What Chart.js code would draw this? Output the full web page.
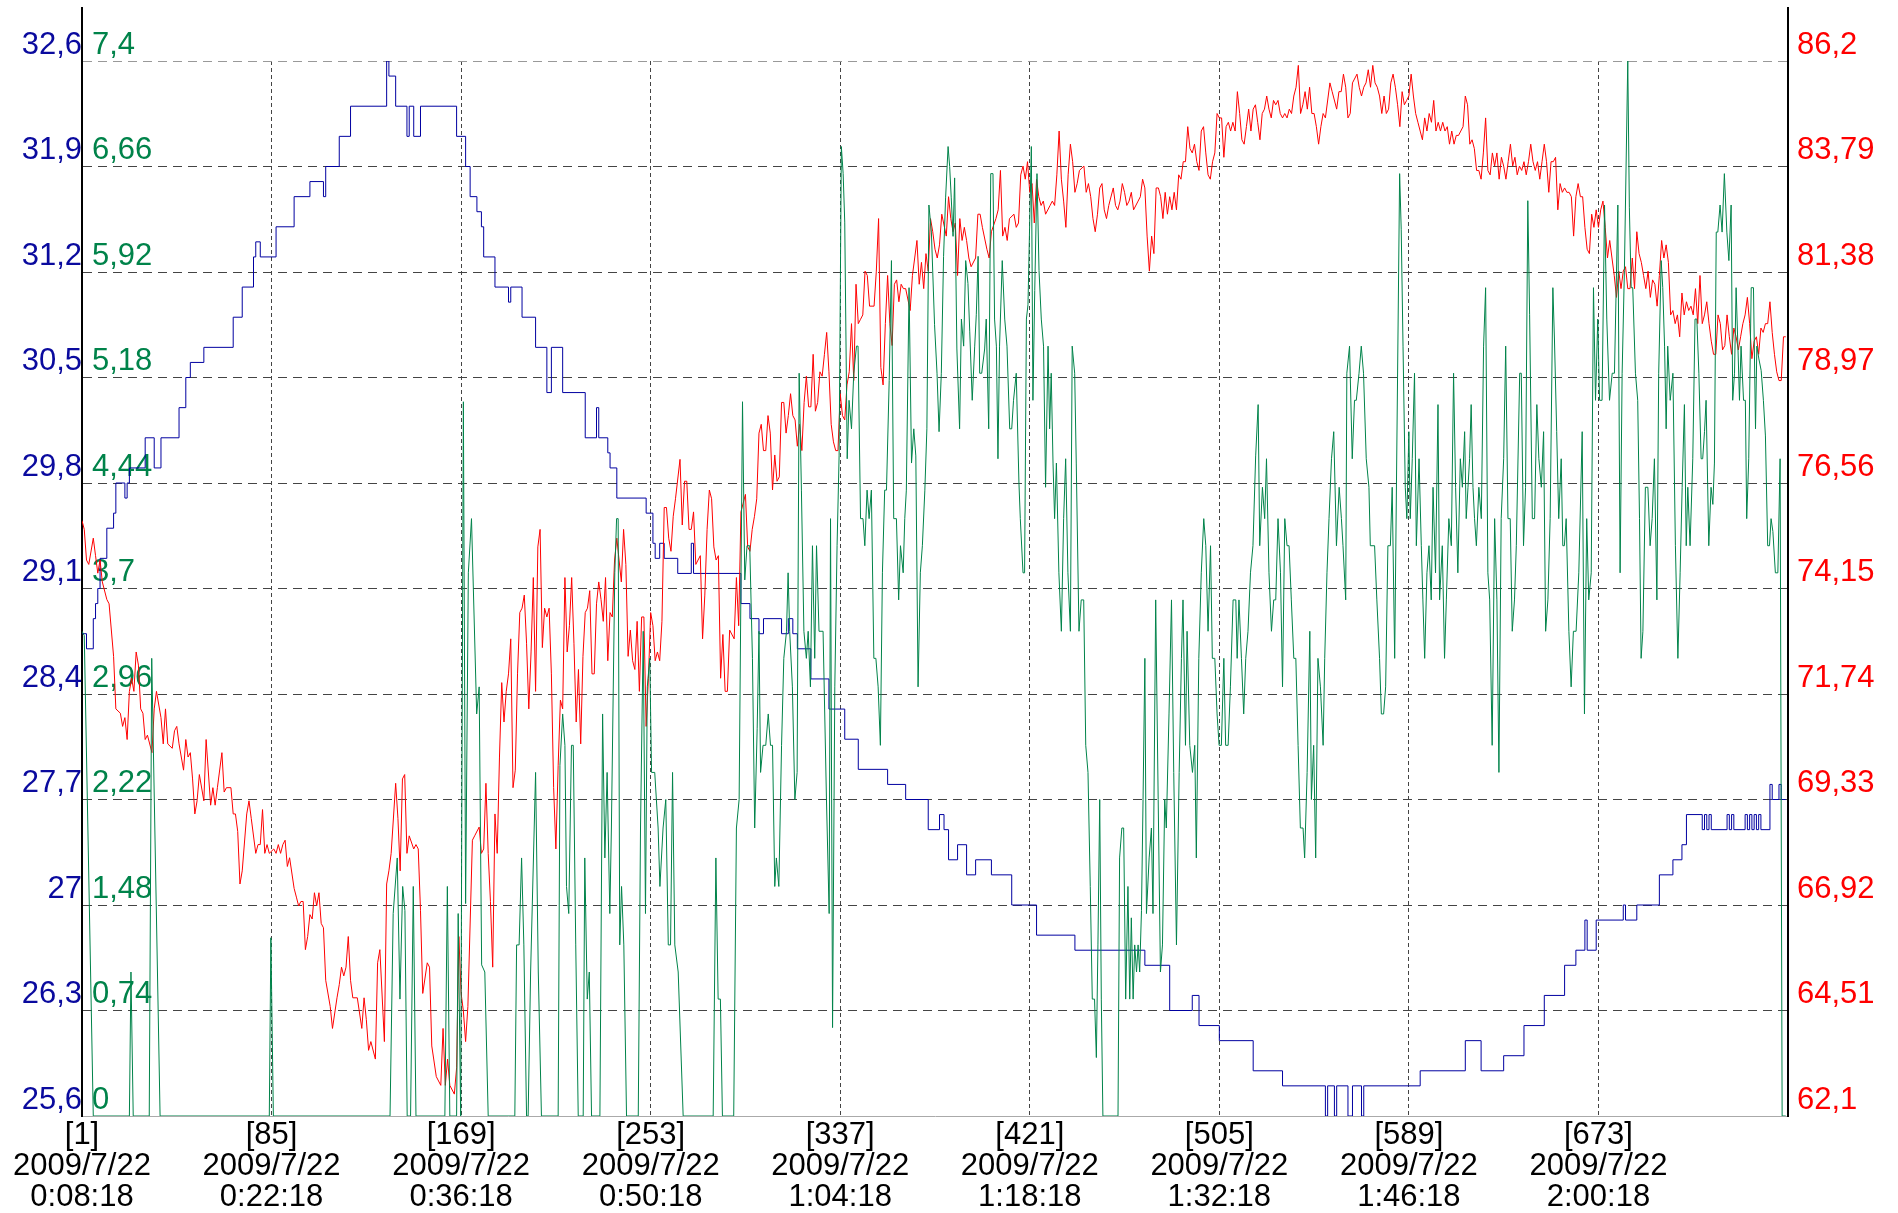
<!DOCTYPE html>
<html>
<head>
<meta charset="utf-8">
<script src="https://cdn.jsdelivr.net/npm/chart.js@4"></script>
<style>
  body { margin: 0; background: #fff; }
  canvas { display: block; }
</style>
</head>
<body>
<canvas id="grafica" width="1898" height="1213"></canvas>
<script>
// Ejes: valores de las marcas y sus textos
const azulMarcas = [25.6, 26.3, 27, 27.7, 28.4, 29.1, 29.8, 30.5, 31.2, 31.9, 32.6];
const azulTextos = ["25,6", "26,3", "27", "27,7", "28,4", "29,1", "29,8", "30,5", "31,2", "31,9", "32,6"];
const verdeMarcas = [0, 0.74, 1.48, 2.22, 2.96, 3.7, 4.44, 5.18, 5.92, 6.66, 7.4];
const verdeTextos = ["0", "0,74", "1,48", "2,22", "2,96", "3,7", "4,44", "5,18", "5,92", "6,66", "7,4"];
const rojoMarcas = [62.1, 64.51, 66.92, 69.33, 71.74, 74.15, 76.56, 78.97, 81.38, 83.79, 86.2];
const rojoTextos = ["62,1", "64,51", "66,92", "69,33", "71,74", "74,15", "76,56", "78,97", "81,38", "83,79", "86,2"];

const xMarcas = [1, 85, 169, 253, 337, 421, 505, 589, 673];
const xFechas = ["2009/7/22", "2009/7/22", "2009/7/22", "2009/7/22", "2009/7/22", "2009/7/22", "2009/7/22", "2009/7/22", "2009/7/22"];
const xHoras = ["0:08:18", "0:22:18", "0:36:18", "0:50:18", "1:04:18", "1:18:18", "1:32:18", "1:46:18", "2:00:18"];

// Serie azul (escalonada): muestra donde cambia el valor
const azulX = [
  1,3,6,7,8,9,12,15,16,20,21,22,29,33,36,44,47,49,55,68,72,77,78,80,87,95,
  102,108,109,115,120,136,137,140,145,146,148,151,167,171,173,176,178,179,184,190,191,196,202,207,209,214,224,229,230,234,235,238,251,254,255,257,259,265,271,272,
  293,297,301,303,311,314,316,318,324,332,339,345,358,366,376,
  381,383,385,389,393,397,404,413,424,441,
  472,483,493,496,505,520,533,552,553,556,557,562,564,568,569,594,614,621,631,640,649,
  658,663,667,668,672,684,685,690,700,706,710,712,719,720,721,722,723,730,731,732,733,738,739,740,741,742,743,744,745,749,750,753,754,756
];
const azulY = [
  28.8,28.7,28.9,29.0,29.1,29.3,29.5,29.6,29.8,29.7,29.8,29.9,30.1,29.9,30.1,30.3,30.5,30.6,30.7,30.9,31.1,31.3,31.4,31.3,31.5,31.7,
  31.8,31.7,31.9,32.1,32.3,32.6,32.5,32.3,32.1,32.3,32.1,32.3,32.1,31.9,31.7,31.6,31.5,31.3,31.1,31.0,31.1,30.9,30.7,30.4,30.7,30.4,30.1,30.3,30.1,30.0,29.9,29.7,29.6,29.4,29.3,29.4,29.3,29.2,29.4,29.2,
  29.0,28.9,28.8,28.9,28.8,28.9,28.8,28.7,28.5,28.3,28.1,27.9,27.8,27.7,27.5,
  27.6,27.5,27.3,27.4,27.2,27.3,27.2,27.0,26.8,26.7,
  26.6,26.3,26.4,26.2,26.1,25.9,25.8,25.6,25.8,25.6,25.8,25.6,25.8,25.6,25.8,25.9,26.1,25.9,26.0,26.2,26.4,
  26.6,26.7,26.9,26.7,26.9,27.0,26.9,27.0,27.2,27.3,27.4,27.6,27.5,27.6,27.5,27.6,27.5,27.6,27.5,27.6,27.5,27.6,27.5,27.6,27.5,27.6,27.5,27.6,27.5,27.8,27.7,27.8,27.7,27.7
];

// Serie roja
const rojoX = [
  1,2,3,4,6,7,8,9,10,12,13,15,16,18,19,20,21,22,23,24,25,26,27,28,29,30,32,33,34,36,37,38,39,41,42,43,44,46,47,48,49,50,51,52,53,55,56,58,59,60,61,63,64,65,67,68,69,70,71,72,74,75,76,78,79,80,81,82,83,84,86,87,88,89,90,91,92,93,95,96,97,
  98,99,100,101,102,103,104,105,106,107,108,109,111,112,114,115,116,117,118,119,120,121,123,125,126,127,128,129,131,132,133,135,136,137,138,140,141,142,143,144,145,146,148,149,150,151,152,154,155,156,158,160,161,162,163,164,166,167,168,169,170,171,172,174,175,177,178,179,180,181,182,183,184,185,186,187,188,189,190,
  191,192,193,194,195,196,197,198,199,200,201,202,203,204,205,206,207,208,209,210,
  211,212,213,214,215,216,217,218,219,220,221,222,223,224,225,226,227,228,229,230,
  231,232,233,234,235,236,237,238,239,240,241,242,243,244,245,246,247,248,249,250,
  251,252,253,254,255,256,257,258,259,260,261,262,263,264,266,267,268,269,270,271,
  272,273,274,275,276,277,278,279,280,281,
  282,283,284,285,286,287,288,290,291,292,293,294,295,296,297,298,299,300,301,302,
  303,304,305,306,307,308,309,310,311,312,313,314,315,316,317,318,319,320,321,322,
  323,324,325,326,327,328,329,330,331,332,333,334,335,336,337,338,339,340,341,342,
  343,344,345,346,347,348,349,350,352,353,354,355,356,357,358,359,360,361,362,363,
  364,365,366,368,369,370,371,372,373,374,375,376,
  377,378,379,380,381,382,384,385,386,387,388,389,390,391,392,393,394,395,397,398,
  399,400,402,403,404,406,407,408,409,410,411,412,414,415,416,417,418,419,420,421,
  422,423,424,425,426,427,428,430,431,432,433,434,435,436,437,438,439,440,441,442,
  443,445,446,447,448,449,450,451,452,453,454,455,456,458,459,460,461,462,463,464,
  465,466,467,469,470,
  471,472,473,474,475,476,477,478,479,480,481,482,483,484,485,486,487,488,489,490,
  491,492,493,494,495,496,497,498,499,500,501,502,503,504,505,506,507,508,509,510,
  511,512,513,514,515,516,517,518,519,520,521,522,523,524,525,526,527,528,529,530,
  531,532,533,534,535,536,537,538,539,540,541,542,543,544,545,546,547,548,549,550,
  551,552,554,555,557,558,559,560,561,562,563,
  564,566,567,568,569,570,571,572,573,574,575,576,577,578,579,580,581,582,583,584,
  585,586,587,588,589,590,591,592,593,594,595,596,597,598,599,600,601,602,603,604,
  605,606,607,608,609,610,611,612,613,614,615,616,617,618,619,620,621,622,623,624,
  625,626,627,628,629,630,631,632,633,634,635,636,637,638,639,640,641,642,643,644,
  645,646,647,648,649,650,651,652,653,654,655,
  656,657,658,659,660,661,662,663,664,665,666,667,668,669,670,671,672,673,674,675,
  676,677,678,679,680,681,682,683,684,685,686,687,688,689,690,691,692,693,694,695,
  696,697,698,699,700,701,702,703,704,705,706,707,708,709,710,711,712,713,714,715,
  716,717,718,719,720,721,722,723,724,725,726,727,728,729,730,731,732,733,734,735,
  736,737,738,739,740,741,742,743,744,745,746,747,748,749,750,751,752,753,754,755,
  756
];
const rojoY = [
  75.7,75.5,74.8,74.7,75.3,74.9,74.5,74.8,74.3,73.9,73.8,72.6,71.4,71.3,71.0,71.2,70.7,71.8,72.1,71.8,72.7,72.4,71.4,71.3,70.7,70.8,70.4,71.4,71.8,71.2,70.6,71.4,70.6,70.5,70.9,71.0,70.6,70.0,70.7,70.3,70.4,69.8,69.0,69.3,69.9,69.3,70.7,69.2,69.6,69.2,69.6,70.4,69.5,69.6,69.6,69.0,69.0,68.6,67.4,67.7,69.0,69.3,68.9,68.1,68.3,68.3,69.1,68.1,68.3,68.1,68.2,68.1,68.3,68.1,68.3,68.4,67.8,68.0,67.3,67.1,66.9,
  67.0,67.0,65.9,66.2,66.7,66.6,67.2,66.9,67.2,66.5,66.4,65.2,64.6,64.1,64.8,65.1,65.5,65.3,65.5,66.2,65.2,64.8,64.8,64.1,64.8,64.3,63.6,63.8,63.4,65.6,65.9,63.8,67.4,67.7,68.1,69.7,68.9,67.7,69.8,69.9,68.1,68.5,68.2,68.3,68.2,66.8,64.9,65.6,65.5,63.7,63.0,62.8,64.1,62.8,63.4,62.8,62.6,63.2,66.2,64.9,64.5,63.8,64.6,68.4,68.5,68.7,68.1,68.2,69.7,68.1,67.0,65.5,69.0,68.1,70.3,72.0,71.1,71.8,72.2,
  73.0,69.6,70.0,72.2,73.6,73.7,74.0,72.9,71.4,72.7,74.4,71.8,75.1,75.5,72.8,73.7,73.5,73.7,72.2,69.6,
  68.2,70.1,71.6,71.4,74.4,72.7,73.3,74.4,72.9,71.1,72.3,70.6,72.6,73.6,73.7,74.1,72.2,72.2,73.8,74.3,
  73.9,73.4,74.4,72.5,73.6,73.5,74.8,75.3,74.8,74.3,75.5,74.7,72.6,73.2,72.5,72.3,73.4,71.8,73.5,73.5,
  71.0,72.1,73.6,73.3,72.5,72.7,72.5,73.4,76.0,76.0,75.3,75.0,75.8,76.2,77.1,75.6,76.6,76.6,75.5,75.5,
  75.9,74.7,74.8,74.9,73.0,74.0,75.5,76.4,76.2,75.1,
  74.8,74.9,72.1,73.1,71.8,71.8,73.2,73.0,74.4,73.3,75.9,76.1,76.3,75.1,75.0,75.5,75.8,76.2,77.7,77.9,
  77.3,77.3,78.1,77.7,76.4,77.2,76.6,76.7,78.4,78.4,77.7,78.1,78.6,78.1,78.0,77.4,77.9,77.3,78.4,79.0,
  78.3,78.3,79.5,78.2,78.4,79.1,79.0,79.5,80.0,79.1,77.9,77.5,77.3,77.3,78.6,78.1,78.0,78.8,79.1,80.2,
  78.9,81.1,80.2,80.3,80.4,81.4,81.3,80.6,80.6,81.4,82.6,79.2,78.8,80.2,81.3,80.2,79.7,81.1,81.2,80.7,
  81.1,81.0,81.0,80.5,81.3,81.7,82.1,81.1,81.6,81.0,81.8,81.4,
  82.6,82.3,81.9,81.7,82.0,82.7,82.2,83.1,82.6,82.3,82.5,81.3,82.6,82.1,82.4,82.1,81.7,81.5,81.7,82.7,
  82.7,82.4,81.9,81.7,82.3,82.6,82.8,83.7,82.2,82.4,82.1,82.6,82.7,82.4,82.5,83.6,83.8,83.5,83.9,83.2,
  83.4,82.5,83.5,83.1,82.9,83.0,82.7,82.9,83.0,82.9,83.6,84.6,83.5,83.0,82.4,83.6,84.3,83.9,83.2,83.4,
  83.7,83.8,83.2,83.4,83.1,82.6,82.3,82.7,83.3,83.4,82.8,82.6,82.9,83.3,82.9,82.8,83.0,83.4,83.2,82.9,
  83.0,83.2,82.8,83.0,83.1,
  83.5,83.3,82.2,81.4,82.2,81.8,83.3,83.3,83.1,82.6,83.2,82.7,83.1,82.8,83.2,82.8,83.6,83.5,83.9,83.9,
  84.7,84.2,84.1,84.3,83.9,83.7,84.6,84.7,84.1,83.6,83.5,83.9,84.1,85.0,84.9,84.9,84.0,84.7,84.8,84.6,
  84.8,84.6,85.5,85.0,84.4,84.3,84.7,85.1,84.6,85.1,85.2,84.8,84.4,85.0,85.1,85.4,85.1,84.9,85.3,85.2,
  85.3,85.0,84.9,85.0,84.9,85.1,85.0,85.4,85.6,86.1,85.0,85.2,85.5,85.1,85.6,85.0,85.0,84.7,84.3,84.7,
  85.0,84.9,85.7,85.5,85.1,85.5,85.5,85.9,85.6,84.9,85.0,
  85.7,85.9,85.6,85.4,85.6,85.7,86.0,85.6,86.1,85.7,85.6,85.4,85.0,85.4,85.0,85.1,85.7,85.9,85.6,85.2,
  84.7,85.5,85.2,85.3,85.4,85.9,85.4,85.0,84.8,84.6,84.4,84.9,84.6,85.0,84.8,85.3,84.6,84.8,84.6,84.8,
  84.6,84.7,84.3,84.6,84.3,84.5,84.5,84.6,84.7,85.4,85.2,84.3,84.4,84.2,83.7,83.7,83.5,84.1,84.9,83.7,
  83.6,84.1,83.8,84.1,83.5,84.0,83.8,83.5,83.9,84.3,83.8,84.0,83.6,83.8,83.7,83.9,83.6,83.9,84.3,83.9,
  83.7,83.9,83.5,83.9,84.3,83.9,83.2,83.9,83.9,84.0,82.8,
  83.4,83.2,83.3,83.2,83.2,83.1,82.2,83.1,83.4,83.1,83.1,82.4,81.9,81.8,82.7,82.4,82.8,82.4,82.8,83.0,
  82.4,81.7,82.1,81.7,81.3,80.8,81.4,81.0,81.4,81.5,81.0,81.0,81.7,81.0,82.3,81.8,81.6,81.3,81.0,81.4,
  80.8,81.2,81.1,80.6,81.3,82.1,81.7,82.0,81.6,80.4,80.5,80.2,80.4,79.9,80.9,80.4,80.7,80.5,80.6,80.4,
  81.0,80.2,81.3,80.2,80.4,80.7,80.2,79.8,79.5,79.5,80.4,80.2,79.6,79.7,80.4,79.9,79.5,80.1,79.9,79.6,
  79.9,80.2,80.4,80.8,80.2,79.4,79.8,79.9,79.5,80.1,80.0,80.2,80.2,80.7,80.0,79.5,79.1,78.9,78.9,79.9,
  79.9
];

// Serie verde
const verdeX = [
  1,2,6,22,22.7,23.7,30.8,31.9,35.6,84,84.7,85.8,
  137.5,138.9,140.7,141.9,143.1,144.1,145.1,146.6,147.8,149,161.8,162.9,164,167,167.7,168.8,170,171,172.2,173.6,175.9,177,178.1,179.5,181,
  192.8,193.6,194.7,195.8,196.8,198,198.7,199.8,202,203.2,204.6,212,212.8,214,215,215.7,216.7,217.9,218.7,219.8,
  220.9,223.1,223.8,224.9,225.8,226.8,230.5,231.7,232.7,233.7,234.9,235.6,237.1,237.9,238.6,239.3,240.1,241.1,242.3,247.5,
  248.5,249.7,250.7,251.5,252.6,253.4,254.8,256.3,257.1,258.5,259.7,260.8,261.8,262.7,263.7,265.2,267.4,280.7,281.9,282.9,
  283.9,284.8,
  289.8,291,292.2,293.7,294.7,295.7,296.9,298.1,299.1,300.2,301,301.7,302.8,304,305.1,306.1,307,308,308.7,309.8,
  311,312,313.2,313.9,314.6,315.8,316.9,317.9,318.8,319.8,320.9,322,322.8,323.8,324.7,325.7,326.5,327.6,329.4,330.9,
  332.1,332.7,333.6,334.6,335.6,336.5,337.5,338.3,339,340.1,340.9,342,343,344.2,344.9,346,347.1,347.9,348.9,349.8,
  350.8,351.9,352.8,353.8,354.8,355.7,356.7,357.5,358.7,359.7,360.7,361.9,362.9,363.7,364.9,365.6,366.3,367.5,368.6,369.6,
  370.5,371.5,372.5,373.4,374.5,375.4,376.3,
  377.4,378.8,379.9,380.8,381.8,382.8,383.7,384.8,385.5,386.2,387,387.7,388.7,389.9,390.7,391.7,392.6,393.6,394.4,395.5,
  396.6,397.3,398.1,398.8,399.7,401,401.7,402.8,403.7,404.7,405.4,406.2,406.9,407.6,408.8,409.9,410.9,412.1,413,413.8,
  415,416.2,416.8,418,418.7,419.5,420.2,420.9,421.7,422.4,423.2,424.2,425.1,426.1,427.1,428,429.1,429.8,430.5,431.3,
  432,432.8,433.9,435,436,436.9,437.9,439,439.8,440.9,441.6,442.8,443.8,444.9,445.8,446.8,447.8,448.7,449.7,450.5,
  451.2,452,452.7,453.4,460.1,460.8,461.8,462.6,463.5,464.5,
  465.3,466,466.8,467.5,468.3,469,469.7,470.5,471.2,472,472.7,473.9,474.9,475.6,476.8,477.9,478.9,479.8,480.8,481.5,
  482.7,483.8,484.8,486,487.2,488.2,488.9,490,490.7,491.9,493.1,494.1,494.8,495.9,497,498.1,499,500,501.1,501.9,
  503,504,504.9,505.9,507,507.8,508.9,509.9,511.1,512.3,512.9,513.7,514.8,515.8,516.7,517.7,518.8,519.9,521.1,522.2,
  522.9,524.1,525.1,525.9,527,528.1,529.1,530,531,532.1,533,534,535,535.9,536.9,538,538.9,539.9,540.9,542.1,
  542.8,543.9,545.1,545.8,546.8,547.7,548.7,549.8,551,551.7,552.7,553.6,554.7,555.7,556.9,558.1,559.1,
  559.8,561,561.5,562.7,563.9,564.9,565.7,566.9,567.9,568.9,570.1,571.3,571.9,573.8,574.8,576,576.8,577.8,578.7,579.7,
  580.8,581.6,582.7,584.9,585.6,586.4,587.4,588.1,589,589.6,590.5,591.5,592.3,593.5,594.5,595.2,596,597,597.9,598.9,
  599.7,600.8,601.9,602.6,603.8,604.8,605.6,606.7,607.8,608.8,609.7,610.7,611.8,612.7,613.7,614.4,615.2,615.9,616.6,617.4,
  618.1,618.9,620,621.1,622.1,623,624,624.8,625.9,627,628,628.9,629.9,631,631.9,632.9,633.9,634.8,635.8,636.6,
  638.1,638.8,639.8,640.7,641.7,642.5,643.7,644.7,645.7,646.6,647.7,648.7,649.6,650.6,651.6,652.8,
  653.5,654.5,655.4,656.5,657.2,657.9,658.7,659.9,660.9,661.9,663.1,664.3,665.8,666.8,667.8,668.7,669.8,670.8,671.7,672.7,
  673.5,674.6,675.7,676.7,677.9,679.1,680.1,681.6,682.6,683.5,684.5,686,686.7,687.5,688.2,689.4,690.4,691.2,691.9,692.7,
  693.8,694.9,695.9,696.8,697.8,698.9,699.7,700.8,701.5,702.3,703,703.7,704.8,706,707.1,708.2,709.2,710.1,711.1,711.9,
  712.6,713.6,714.8,715.8,716.6,717.5,718.5,719.2,720,720.7,721.9,722.9,723.7,724.4,725.2,725.9,726.9,727.8,728.8,729.9,
  730.8,731.8,732.5,733.3,734,734.8,735.5,736.2,737.3,738.1,738.7,739.6,740.7,741.7,742.6,743.2,744.1,745.1,746.1,747,
  748,748.8,749.5,750.3,751.4,752.5,753.5,754.4,756
];
const verdeY = [
  3.4,3.37,0,0,1.01,0,0,3.21,0,0,1.25,0,
  0,1.42,1.81,0.82,1.61,1.44,0,0,1.61,0,0,1.61,0,0,1.42,0,5.01,1.49,3.81,4.19,2.82,3.01,1.06,1.01,0,
  0,1.2,1.2,1.81,1.2,0,0,1.01,2.41,1.01,0,0,2.46,2.82,2.6,1.61,1.42,2.6,2.6,1.2,
  0,0,1.81,0.82,1.01,0,0,2.82,1.81,2.41,1.42,2.02,3.81,4.19,4.19,1.2,1.61,1.2,0,0,
  2.02,3.4,1.42,3.01,3.21,2.41,2.41,2.02,1.61,2.02,2.22,1.2,1.2,2.41,1.2,1.01,0,0,1.81,0.82,
  0.82,0,
  0,2.02,2.22,5.01,3.76,4.0,4.0,3.21,2.02,2.72,3.4,2.41,2.6,2.6,2.82,2.6,2.6,1.61,1.81,1.61,
  2.6,3.21,3.4,3.81,3.4,3.01,2.22,2.41,5.21,4.39,3.4,3.21,3.4,3.01,4.0,3.21,4.0,3.4,3.4,2.22,
  1.42,4.19,0.62,3.01,4.0,4.63,6.8,6.61,6.27,4.61,5.02,4.82,5.21,5.4,5.4,4.19,4.19,4.0,4.39,4.19,
  4.39,3.21,3.21,3.01,2.6,3.81,4.39,4.39,5.16,6.0,4.19,4.19,3.62,4.0,3.81,4.19,4.39,5.81,4.58,4.82,
  4.63,3.01,3.81,4.0,4.39,4.82,6.39,
  6.2,5.55,5.21,4.8,5.21,6.03,6.44,6.8,6.66,6.44,6.17,6.58,5.38,4.82,5.59,5.4,6.0,5.84,5.5,5.02,
  5.4,5.62,6.03,5.21,5.21,5.38,5.59,4.82,6.61,6.61,5.59,5.4,4.61,5.4,6.0,5.59,5.4,4.82,4.82,5.02,
  5.21,4.44,4.19,3.81,3.81,5.59,5.69,6.22,6.8,5.02,5.79,6.61,5.93,5.59,5.4,4.41,5.4,4.82,5.21,4.58,
  4.19,4.58,3.81,3.4,4.19,4.61,3.81,3.4,5.4,5.21,4.58,3.4,3.62,3.62,2.6,2.41,1.61,0.82,0.82,0.41,
  1.2,2.22,0.82,0,0,1.81,2.02,2.02,0.82,1.61,
  0.82,1.39,0.82,1.2,1.01,1.2,1.01,1.44,2.22,3.21,1.42,1.81,2.02,1.42,3.62,2.22,1.01,1.2,2.22,2.02,
  2.82,3.62,2.41,1.2,2.41,3.21,3.62,2.6,3.4,2.6,2.41,2.6,1.81,3.21,3.81,4.19,4.0,3.4,4.0,3.21,
  3.21,2.82,2.6,2.6,3.21,2.6,2.6,3.01,3.62,3.62,3.21,3.62,3.21,2.82,3.21,3.4,3.81,4.0,4.63,4.99,
  4.0,4.41,4.19,4.61,3.81,3.4,3.62,3.62,4.19,3.81,3.01,4.19,4.0,4.0,3.62,3.21,3.21,2.6,2.02,2.02,
  1.81,2.41,3.4,2.22,2.6,1.81,3.21,3.01,2.6,3.21,3.81,4.19,4.61,4.8,4.0,4.41,4.19,
  4.0,3.62,5.21,5.4,4.61,5.02,5.02,5.21,5.4,5.21,4.61,4.41,4.0,4.0,3.62,3.21,2.82,2.82,3.01,4.0,
  4.0,4.41,3.21,6.61,6.22,5.4,4.41,4.19,4.8,4.19,4.61,5.21,4.0,4.61,4.0,3.62,3.21,3.81,4.0,3.62,
  4.41,3.81,4.99,3.62,4.0,3.21,3.62,4.19,4.0,5.21,4.41,3.81,4.61,4.41,4.8,4.19,4.41,4.61,4.99,4.41,
  4.19,4.0,4.41,4.19,5.4,5.81,3.81,3.62,2.6,4.19,3.62,2.41,4.19,4.61,5.4,4.19,4.19,3.4,3.62,4.0,
  5.21,5.21,4.0,4.41,6.42,5.62,4.19,4.19,4.99,4.61,4.41,4.8,3.4,3.62,4.19,5.81,
  5.45,4.8,4.19,4.61,4.0,4.0,4.19,3.4,3.01,3.4,3.4,3.81,4.8,2.82,4.19,3.62,3.81,5.81,5.02,5.59,
  5.02,5.02,6.39,5.59,5.02,5.21,5.21,6.39,3.81,5.21,5.93,7.4,6.37,5.81,5.81,5.21,5.02,4.19,3.21,3.4,
  4.41,4.41,4.0,4.19,4.61,3.62,5.21,6.0,5.81,5.4,4.82,5.4,5.02,5.21,4.0,3.21,3.81,4.41,4.99,4.0,
  4.41,4.0,4.61,5.59,5.59,5.21,4.61,4.61,4.8,5.02,4.0,4.41,4.29,4.58,6.2,6.2,6.39,6.2,6.61,6.2,
  6.0,6.39,5.02,5.21,5.81,5.4,5.02,5.4,5.02,5.02,4.19,4.61,5.81,5.81,4.82,5.4,5.31,5.23,5.02,4.77,
  4.0,4.0,4.19,4.1,3.81,3.81,4.61,0,0
];

function puntos(xs, ys) {
  const n = Math.min(xs.length, ys.length);
  const out = [];
  for (let i = 0; i < n; i++) out.push({ x: xs[i], y: ys[i] });
  return out;
}

function fijarMarcas(valores) {
  return (escala) => {
    escala.ticks = valores.map((v) => ({ value: v }));
  };
}

const fuente = { family: "'Liberation Sans', Arial, sans-serif", size: 31, lineHeight: 1 };

// Prolonga las líneas de los ejes por encima del área
const ejesArriba = {
  id: "ejesArriba",
  afterDraw(chart) {
    const { ctx, chartArea, scales } = chart;
    ctx.save();
    ctx.strokeStyle = "#000";
    ctx.lineWidth = 2;
    [scales.yAzul.right, scales.yRojo.left].forEach((x) => {
      const px = Math.round(x - 1) + 1;
      ctx.beginPath();
      ctx.moveTo(px, 7);
      ctx.lineTo(px, chartArea.top);
      ctx.stroke();
    });
    ctx.restore();
  },
};

new Chart(document.getElementById("grafica"), {
  type: "line",
  data: {
    datasets: [
      {
        label: "verde",
        data: puntos(verdeX, verdeY),
        yAxisID: "yVerde",
        borderColor: "#00834a",
        borderWidth: 1,
        pointRadius: 0,
        order: 1,
      },
      {
        label: "rojo",
        data: puntos(rojoX, rojoY),
        yAxisID: "yRojo",
        borderColor: "#ff0000",
        borderWidth: 1,
        pointRadius: 0,
        order: 2,
      },
      {
        label: "azul",
        data: puntos(azulX, azulY),
        yAxisID: "yAzul",
        borderColor: "#0000a0",
        borderWidth: 1,
        pointRadius: 0,
        stepped: true,
        order: 3,
      },
    ],
  },
  options: {
    responsive: false,
    animation: false,
    devicePixelRatio: 1,
    layout: { padding: { top: 61, left: 0, right: 0, bottom: 0 } },
    plugins: { legend: { display: false }, tooltip: { enabled: false } },
    scales: {
      x: {
        type: "linear",
        min: 1,
        max: 757,
        afterBuildTicks: fijarMarcas(xMarcas),
        afterFit: (s) => { s.height = 97; },
        grid: {
          color: (c) => (c.index === 0 ? "rgba(0,0,0,0)" : "#444"),
          lineWidth: 1,
          drawTicks: false,
        },
        border: { display: true, color: "#aaa", width: 1, dash: [4, 3] },
        ticks: {
          autoSkip: false,
          maxRotation: 0,
          padding: 4,
          color: "#000",
          font: fuente,
          callback: (v, i) => ["[" + xMarcas[i] + "]", xFechas[i], xHoras[i]],
        },
      },
      yAzul: {
        position: "left",
        weight: 2,
        min: 25.6,
        max: 32.6,
        afterBuildTicks: fijarMarcas(azulMarcas),
        afterFit: (s) => { s.width = 82; },
        grid: {
          color: (c) => (c.index === 0 ? "rgba(0,0,0,0)" : c.index === 10 ? "#999" : "#444"),
          lineWidth: 1,
          drawTicks: false,
        },
        border: { display: true, color: "#000", width: 2, dash: [9, 6] },
        ticks: {
          autoSkip: false,
          padding: 0,
          labelOffset: -16,
          color: "#0a0a9e",
          font: fuente,
          callback: (v, i) => azulTextos[i],
        },
      },
      yVerde: {
        position: "left",
        weight: 1,
        min: 0,
        max: 7.4,
        afterBuildTicks: fijarMarcas(verdeMarcas),
        afterFit: (s) => { s.width = 0; },
        grid: { display: false, drawTicks: false },
        border: { display: false },
        ticks: {
          autoSkip: false,
          mirror: true,
          padding: 10,
          labelOffset: -16,
          color: "#00834a",
          font: fuente,
          callback: (v, i) => verdeTextos[i],
        },
      },
      yRojo: {
        position: "right",
        min: 62.1,
        max: 86.2,
        afterBuildTicks: fijarMarcas(rojoMarcas),
        afterFit: (s) => { s.width = 110; },
        grid: { display: false, drawTicks: false },
        border: { display: true, color: "#000", width: 2 },
        ticks: {
          autoSkip: false,
          padding: 9,
          labelOffset: -16,
          color: "#ff0000",
          font: fuente,
          callback: (v, i) => rojoTextos[i],
        },
      },
    },
  },
  plugins: [ejesArriba],
});
</script>
</body>
</html>
